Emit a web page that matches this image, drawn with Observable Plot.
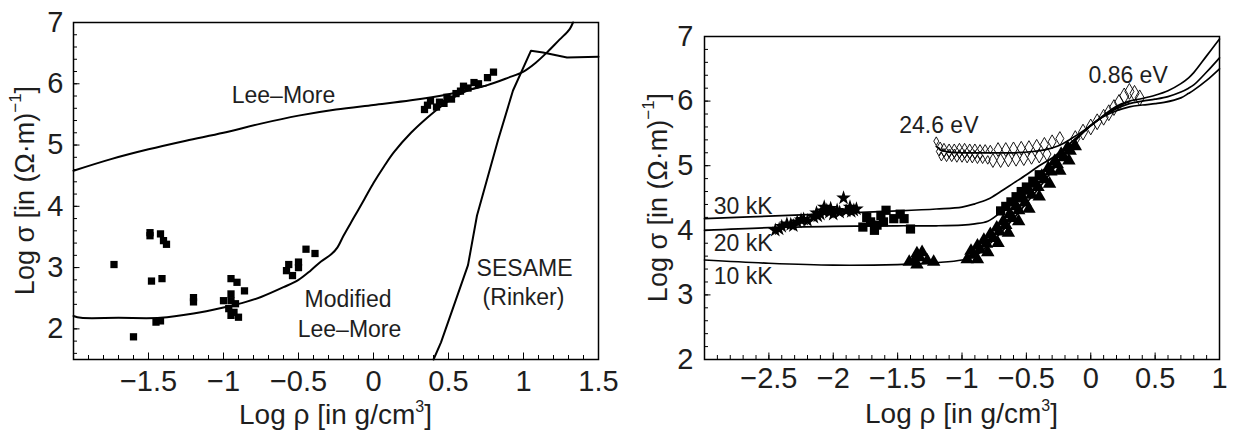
<!DOCTYPE html>
<html><head><meta charset="utf-8">
<script src="https://cdn.jsdelivr.net/npm/d3@7"></script>
<script src="https://cdn.jsdelivr.net/npm/@observablehq/plot@0.6"></script>
<style>
body{margin:0;background:#fff;}
#wrap{position:relative;width:1236px;height:430px;background:#fff;}
#wrap svg{position:absolute;top:0;overflow:visible;display:block}
</style></head><body><div id="wrap"></div>
<script>
// ---------- LEFT PANEL DATA ----------
const leeMore = [[-2,4.58],[-1.75,4.77],[-1.5,4.93],[-1.25,5.07],[-1.0,5.2],[-0.75,5.35],[-0.5,5.48],[-0.25,5.58],[0,5.655],[0.25,5.73],[0.5,5.83],[0.75,5.97],[0.9,6.1],[1.0,6.2],[1.08,6.34],[1.16,6.52],[1.24,6.72],[1.29,6.84],[1.31,6.9],[1.33,7.0]];
const modifiedLeeMore = [[-2,2.21],[-1.95,2.18],[-1.7,2.18],[-1.42,2.18],[-1.2,2.25],[-1.0,2.35],[-0.85,2.44],[-0.75,2.52],[-0.6,2.68],[-0.5,2.8],[-0.42,2.95],[-0.35,3.1],[-0.28,3.22],[-0.24,3.33],[-0.2,3.52],[-0.13,3.82],[-0.06,4.12],[0.0,4.38],[0.07,4.65],[0.135,4.88],[0.25,5.2],[0.36,5.45],[0.45,5.63],[0.55,5.8],[0.65,5.91],[0.75,5.97]];
const sesame = [[0.40,1.5],[0.45,1.78],[0.52,2.27],[0.63,3.04],[0.69,3.85],[0.83,5.08],[0.93,5.89],[1.05,6.54],[1.13,6.51],[1.29,6.43],[1.5,6.44]];
const expSquaresL = [[-1.73,3.05],[-1.49,3.57],[-1.49,3.52],[-1.42,3.55],[-1.40,3.44],[-1.38,3.38],[-1.48,2.78],[-1.41,2.82],[-1.45,2.11],[-1.42,2.13],[-1.60,1.87],[-1.20,2.51],[-1.20,2.44],[-0.95,2.82],[-0.91,2.76],[-0.86,2.62],[-1.0,2.46],[-0.95,2.57],[-0.95,2.46],[-0.92,2.41],[-0.965,2.33],[-0.93,2.27],[-0.90,2.19],[-0.95,2.22],[-0.58,2.95],[-0.565,3.05],[-0.54,2.87],[-0.50,3.09],[-0.50,3.0],[-0.45,3.30],[-0.39,3.23],
 [0.34,5.58],[0.36,5.65],[0.38,5.72],[0.42,5.62],[0.44,5.70],[0.47,5.68],[0.49,5.78],[0.52,5.75],[0.55,5.84],[0.58,5.88],[0.60,5.96],[0.63,5.93],[0.67,6.02],[0.70,6.0],[0.76,6.10],[0.80,6.19]];
const leftXTicks = [-1.5,-1,-0.5,0,0.5,1,1.5];
const leftYTicks = [2,3,4,5,6,7];

// ---------- RIGHT PANEL DATA ----------
const k30 = [[-3,4.18],[-2.5,4.22],[-2.0,4.26],[-1.5,4.3],[-1.2,4.33],[-1.0,4.36],[-0.9,4.41],[-0.8,4.48],[-0.7,4.6],[-0.6,4.73],[-0.5,4.86],[-0.4,5.0],[-0.3,5.12],[-0.2,5.28],[-0.1,5.45],[0,5.62],[0.1,5.76],[0.2,5.85],[0.3,5.91],[0.4,5.94],[0.5,5.96],[0.57,5.98],[0.7,6.05],[0.76,6.12],[0.8,6.17],[0.9,6.32],[1.0,6.5]];
const k20 = [[-3,4.0],[-2.5,4.04],[-2.0,4.06],[-1.5,4.07],[-1.2,4.07],[-1.0,4.08],[-0.9,4.1],[-0.8,4.14],[-0.7,4.28],[-0.6,4.47],[-0.5,4.67],[-0.4,4.87],[-0.3,5.05],[-0.2,5.27],[-0.1,5.45],[0,5.62],[0.1,5.77],[0.2,5.88],[0.3,5.96],[0.4,6.0],[0.5,6.03],[0.6,6.07],[0.7,6.14],[0.76,6.2],[0.8,6.25],[0.9,6.45],[1.0,6.67]];
const k10 = [[-3,3.54],[-2.5,3.49],[-2.0,3.46],[-1.5,3.47],[-1.2,3.5],[-1.0,3.54],[-0.9,3.6],[-0.8,3.76],[-0.7,3.96],[-0.6,4.18],[-0.5,4.42],[-0.4,4.66],[-0.3,4.92],[-0.2,5.2],[-0.1,5.43],[0,5.62],[0.1,5.78],[0.2,5.92],[0.3,6.0],[0.4,6.04],[0.5,6.09],[0.6,6.16],[0.7,6.27],[0.76,6.36],[0.8,6.44],[0.9,6.7],[1.0,6.96]];
const ev246 = [[-1.2,5.3],[-1.16,5.24],[-1.1,5.21],[-1.0,5.2],[-0.8,5.2],[-0.6,5.2],[-0.45,5.22],[-0.35,5.25],[-0.25,5.31],[-0.15,5.42],[-0.05,5.55],[0.05,5.7],[0.15,5.84],[0.25,5.95],[0.3,5.99]];
const stars = [[-2.45,4.0],[-2.42,4.02],[-2.40,4.06],[-2.36,4.10],[-2.33,4.09],[-2.31,4.07],[-2.28,4.13],[-2.25,4.16],[-2.23,4.17],[-2.20,4.15],[-2.15,4.20],[-2.13,4.27],[-2.12,4.22],[-2.10,4.25],[-2.08,4.30],[-2.05,4.31],[-2.07,4.36],[-2.03,4.28],[-2.02,4.34],[-2.0,4.25],[-1.97,4.31],[-1.95,4.28],[-1.92,4.50],[-1.90,4.30],[-1.87,4.36],[-1.86,4.29],[-1.84,4.31],[-1.82,4.33]];
const squaresR = [[-1.77,4.05],[-1.74,4.20],[-1.71,4.13],[-1.68,4.0],[-1.66,4.08],[-1.63,4.23],[-1.61,4.13],[-1.59,4.31],[-1.53,4.18],[-1.48,4.25],[-1.45,4.18],[-1.40,4.02],
 [-0.70,4.30],[-0.66,4.37],[-0.62,4.44],[-0.58,4.52],[-0.54,4.60],[-0.50,4.67],[-0.45,4.76],[-0.40,4.86]];
const triangles = [[-1.41,3.51],[-1.37,3.53],[-1.35,3.64],[-1.31,3.66],[-1.35,3.47],[-1.27,3.53],[-1.22,3.51],[-1.33,3.58],
 [-0.93,3.68],[-0.88,3.76],[-0.83,3.85],[-0.78,3.94],[-0.73,4.04],[-0.68,4.14],[-0.63,4.25],[-0.58,4.37],[-0.53,4.49],[-0.48,4.61],[-0.43,4.72],[-0.38,4.84],[-0.33,4.96],[-0.28,5.07],[-0.23,5.18],[-0.18,5.28],
 [-0.96,3.55],[-0.91,3.62],[-0.86,3.70],[-0.81,3.79],[-0.76,3.88],[-0.71,3.98],[-0.66,4.08],[-0.61,4.19],[-0.56,4.31],[-0.51,4.43],[-0.46,4.55],[-0.41,4.67],[-0.36,4.79],[-0.31,4.91],[-0.26,5.02],[-0.21,5.13],[-0.16,5.23],[-0.12,5.30],
 [-0.88,3.55],[-0.80,3.66],[-0.72,3.80],[-0.64,3.96],[-0.56,4.14],[-0.48,4.33],[-0.40,4.52],[-0.32,4.72],[-0.24,4.92],[-0.17,5.08]];
const diamondsSmall = [[-1.20,5.38],[-1.17,5.30],[-1.14,5.28],[-1.10,5.27],[-1.06,5.27],[-1.02,5.28],[-0.98,5.28],[-0.94,5.27],[-0.90,5.27],[-0.86,5.26],[-0.82,5.26],[-0.78,5.25],
 [-1.18,5.22],[-1.14,5.20],[-1.10,5.19],[-1.06,5.19],[-1.02,5.18],[-0.98,5.18],[-0.94,5.17],[-0.90,5.17],[-0.86,5.16],
 [-1.16,5.14],[-1.12,5.13],[-1.08,5.13],[-1.04,5.12],[-1.0,5.12],[-0.96,5.11],[-0.92,5.11],[-0.88,5.10],[-0.84,5.10],[-0.80,5.09]];
const diamondsLarge = [[-0.72,5.25],[-0.66,5.25],[-0.60,5.26],[-0.54,5.27],[-0.48,5.28],[-0.42,5.30],[-0.36,5.33],[-0.30,5.37],[-0.24,5.42],
 [-0.76,5.08],[-0.70,5.08],[-0.64,5.09],[-0.58,5.10],[-0.52,5.11],[-0.46,5.13],[-0.40,5.15],[-0.34,5.18]];
const diamonds086 = [[-0.12,5.42],[-0.06,5.52],[0.0,5.6],[0.05,5.68],[0.1,5.75],[0.14,5.82],[0.18,5.9],[0.22,5.98],[0.26,6.08],[0.3,6.15],[0.34,6.12],[0.38,6.05]];
const rightXTicks = [-2.5,-2,-1.5,-1,-0.5,0,0.5,1];
const rightYTicks = [2,3,4,5,6,7];

// ---------- DRAWING ----------
const FONT = "'Liberation Sans', Arial, Helvetica, sans-serif";
const INK = "#1e1e1e";
const fmt = d => (d < 0 ? "\u2212" + String(Math.abs(d)) : String(d));
const X = d => d[0], Y = d => d[1];

function panel({width, mL, mR, mT, mB, xDom, yDom, xMajor, yMajor, xMinor, yMinor, xPad, yPad, marks}) {
  const W = width - mL - mR, H = 430 - mT - mB;
  return Plot.plot({
    width, height: 430, marginLeft: mL, marginRight: mR, marginTop: mT, marginBottom: mB,
    x: {domain: xDom}, y: {domain: yDom},
    style: {fontFamily: FONT, color: INK, background: "transparent", overflow: "visible"},
    marks: [
      ...marks,
      Plot.ruleX(xMinor, {insetTop: H - 4, stroke: "black", strokeWidth: 1}),
      Plot.ruleX(xMajor, {insetTop: H - 6.5, stroke: "black", strokeWidth: 1}),
      Plot.ruleY(yMinor, {insetRight: W - 4, stroke: "black", strokeWidth: 1}),
      Plot.ruleY(yMajor, {insetRight: W - 6.5, stroke: "black", strokeWidth: 1}),
      Plot.frame({stroke: "black", strokeWidth: 1.5}),
      Plot.axisX({ticks: xMajor, tickSize: 0, tickPadding: xPad, tickFormat: fmt, fontSize: 29, label: null}),
      Plot.axisY({ticks: yMajor, tickSize: 0, tickPadding: yPad, tickFormat: fmt, fontSize: 29, label: null})
    ]
  });
}

function addTitles(svg, {xc, xy, yx, yc}) {
  const s = d3.select(svg);
  const tx = s.append("text").attr("x", xc).attr("y", xy).attr("text-anchor", "middle")
    .attr("dominant-baseline", "central").attr("font-family", FONT).attr("font-size", 28).attr("fill", INK);
  tx.append("tspan").text("Log \u03c1 [in g/cm");
  tx.append("tspan").attr("font-size", 16).attr("dy", -8).text("3");
  tx.append("tspan").attr("dy", 8).text("]");
  const ty = s.append("text").attr("transform", `translate(${yx},${yc}) rotate(-90)`).attr("text-anchor", "middle")
    .attr("dominant-baseline", "central").attr("font-family", FONT).attr("font-size", 27).attr("fill", INK);
  ty.append("tspan").text("Log \u03c3 [in (\u03a9\u00b7m)");
  ty.append("tspan").attr("font-size", 17).attr("dy", -10).text("\u22121");
  ty.append("tspan").attr("dy", 10).text("]");
}

const lineOpts = {x: X, y: Y, stroke: "black", strokeWidth: 2, curve: "catmull-rom"};
const txt = (s, x, y) => Plot.text([s], {x, y, text: d => d, fontSize: 23, fill: INK, lineAnchor: "middle", textAnchor: "middle"});

const left = panel({
  width: 600, mL: 73, mR: 2, mT: 22, mB: 71,
  xDom: [-2, 1.5], yDom: [1.5, 7],
  xMajor: leftXTicks, yMajor: leftYTicks,
  xMinor: d3.range(-1.9, 1.45, 0.1), yMinor: d3.range(1.6, 6.95, 0.2),
  xPad: 11, yPad: 10,
  marks: [
    Plot.line(leeMore, lineOpts),
    Plot.line(modifiedLeeMore, lineOpts),
    Plot.line(sesame, {x: X, y: Y, stroke: "black", strokeWidth: 2}),
    Plot.dot(expSquaresL, {x: X, y: Y, symbol: "square", r: 4.1, fill: "black"}),
    txt("Lee\u2013More", -0.6, 5.8),
    txt("Modified", -0.17, 2.48),
    txt("Lee\u2013More", -0.16, 1.99),
    txt("SESAME", 1.007, 2.99),
    txt("(Rinker)", 1.0, 2.51)
  ]
});
addTitles(left, {xc: 335.5, xy: 414, yx: 25, yc: 190.5});

const rOpts = {x: X, y: Y, stroke: "black", strokeWidth: 1.7, curve: "catmull-rom"};
const right = panel({
  width: 636, mL: 104, mR: 17, mT: 36, mB: 71,
  xDom: [-3, 1], yDom: [2, 7],
  xMajor: rightXTicks, yMajor: rightYTicks,
  xMinor: d3.range(-2.9, 0.95, 0.1), yMinor: d3.range(2.2, 6.95, 0.2),
  xPad: 8, yPad: 11,
  marks: [
    Plot.dot(diamondsSmall, {x: X, y: Y, symbol: "diamond", r: 2.6, fill: "none", stroke: "black", strokeWidth: 0.9}),
    Plot.dot(diamondsLarge, {x: X, y: Y, symbol: "diamond", r: 4.2, fill: "none", stroke: "black", strokeWidth: 0.9}),
    Plot.dot(diamonds086, {x: X, y: Y, symbol: "diamond", r: 4.8, fill: "none", stroke: "black", strokeWidth: 0.9}),
    Plot.line(k30, rOpts),
    Plot.line(k20, rOpts),
    Plot.line(k10, rOpts),
    Plot.line(ev246, rOpts),
    Plot.dot(stars, {x: X, y: Y, symbol: "star", r: 4.6, fill: "black"}),
    Plot.dot(squaresR, {x: X, y: Y, symbol: "square", r: 5.2, fill: "black"}),
    Plot.dot(triangles, {x: X, y: Y, symbol: "triangle", r: 5, fill: "black"}),
    txt("30 kK", -2.7, 4.37),
    txt("20 kK", -2.7, 3.79),
    txt("10 kK", -2.7, 3.28),
    txt("24.6 eV", -1.18, 5.62),
    txt("0.86 eV", 0.29, 6.40)
  ]
});
addTitles(right, {xc: 961.5 - 600, xy: 413, yx: 58, yc: 197.5});

right.style.left = "600px";
left.style.left = "0px";
left.style.zIndex = 2;
const wrap = document.getElementById("wrap");
wrap.append(right, left);
</script></body></html>
